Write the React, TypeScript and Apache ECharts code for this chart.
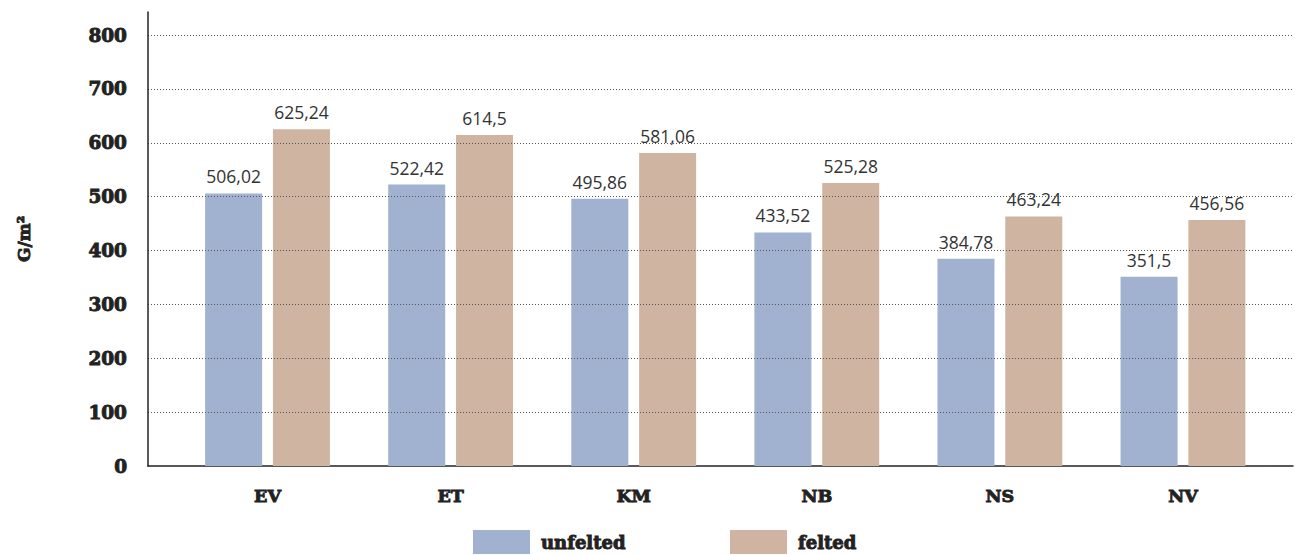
import React, { useEffect, useRef } from "react";
import * as echarts from "echarts";

const categories = ["EV", "ET", "KM", "NB", "NS", "NV"];
const unfelted = [506.02, 522.42, 495.86, 433.52, 384.78, 351.5];
const felted = [625.24, 614.5, 581.06, 525.28, 463.24, 456.56];
const seriesNames = ["unfelted", "felted"];
const yMin = 0;
const yMax = 842.7;
const yInterval = 100;
const yName = "G/m²";

const slab = "'DejaVu Serif', serif";
const sans = "'Open Sans', 'Noto Sans', sans-serif";
const fmt = (v: number) => String(v).replace(".", ",");
const heavy = { fontFamily: slab, fontWeight: "bold", color: "#222", textBorderColor: "#222", textBorderWidth: 0.9 };

export default function App() {
  const ref = useRef<HTMLDivElement>(null);
  useEffect(() => {
    if (!ref.current) return;
    const chart = echarts.init(ref.current, undefined, { renderer: "svg" });
    const labelStyle = {
      show: true,
      position: "top" as const,
      distance: 8,
      fontFamily: sans,
      fontSize: 17.5,
      color: "#333",
      formatter: (p: any) => fmt(p.value),
    };
    chart.setOption({
      animation: false,
      legend: {
        data: seriesNames,
        left: 473,
        top: 530,
        padding: 0,
        itemWidth: 57,
        itemHeight: 24,
        itemGap: 104,
        icon: "rect",
        textStyle: { ...heavy, fontSize: 18, padding: [3, 0, 0, 6] },
      },
      grid: [
        { left: 148, right: 2, top: 12, bottom: 89 },
        { left: 176, right: 20.5, top: 12, bottom: 89 },
      ],
      xAxis: [
        {
          gridIndex: 0,
          type: "value",
          min: 0,
          max: 1,
          axisLine: { show: true, onZero: false, lineStyle: { color: "#222", width: 1.5 } },
          axisTick: { show: false },
          axisLabel: { show: false },
          splitLine: { show: false },
        },
        {
          gridIndex: 1,
          type: "category",
          data: categories,
          axisLine: { show: false },
          axisTick: { show: false },
          axisLabel: { margin: 21, ...heavy, fontSize: 17.5 },
        },
      ],
      yAxis: [
        {
          gridIndex: 0,
          type: "value",
          min: yMin,
          max: yMax,
          interval: yInterval,
          z: 10,
          name: yName,
          nameLocation: "middle",
          nameGap: 116,
          nameRotate: 90,
          nameTextStyle: { ...heavy, fontSize: 17 },
          axisLine: { show: true, lineStyle: { color: "#222", width: 1.5 } },
          axisTick: { show: false },
          axisLabel: { showMaxLabel: false, margin: 21, ...heavy, fontSize: 18.5 },
          splitLine: {
            show: true,
            showMinLine: false,
            showMaxLine: false,
            lineStyle: { color: "#555", type: [1, 2], width: 1 },
          },
        },
        {
          gridIndex: 1,
          type: "value",
          min: yMin,
          max: yMax,
          show: false,
          splitLine: { show: false },
        },
      ],
      series: [
        {
          name: seriesNames[0],
          type: "bar",
          xAxisIndex: 1,
          yAxisIndex: 1,
          data: unfelted,
          barWidth: 57,
          barGap: "19%",
          itemStyle: { color: "#a0b2cf" },
          label: labelStyle,
        },
        {
          name: seriesNames[1],
          type: "bar",
          xAxisIndex: 1,
          yAxisIndex: 1,
          data: felted,
          barWidth: 57,
          barGap: "19%",
          itemStyle: { color: "#cfb4a1" },
          label: labelStyle,
        },
      ],
    });
    return () => chart.dispose();
  }, []);
  return (
    <div
      ref={ref}
      style={{ position: "fixed", left: 0, top: 0, width: 1295, height: 555, background: "#fff" }}
    />
  );
}
